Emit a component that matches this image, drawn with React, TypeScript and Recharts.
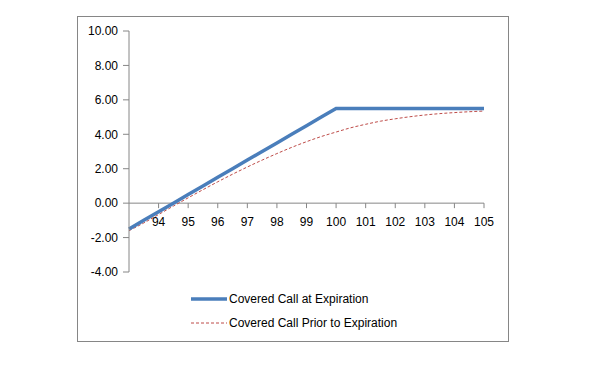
import React from 'react';
import { LineChart, Line, XAxis, YAxis, ReferenceLine } from 'recharts';

const prices = [
  93, 93.5, 94, 94.5, 95, 95.5, 96, 96.5, 97, 97.5, 98, 98.5, 99, 99.5, 100,
  100.5, 101, 101.5, 102, 102.5, 103, 103.5, 104, 104.5, 105,
];
const atExpiration = [
  -1.5, -1.0, -0.5, 0.0, 0.5, 1.0, 1.5, 2.0, 2.5, 3.0, 3.5, 4.0, 4.5, 5.0, 5.5,
  5.5, 5.5, 5.5, 5.5, 5.5, 5.5, 5.5, 5.5, 5.5, 5.5,
];
const priorToExpiration = [
  -1.6, -1.15, -0.66, -0.17, 0.31, 0.78, 1.24, 1.68, 2.1, 2.5, 2.88, 3.24, 3.57, 3.87, 4.13,
  4.38, 4.58, 4.76, 4.9, 5.02, 5.12, 5.2, 5.26, 5.31, 5.35,
];
const xTicks = [94, 95, 96, 97, 98, 99, 100, 101, 102, 103, 104, 105];
const yTicks = [-4, -2, 0, 2, 4, 6, 8, 10];

const data = prices.map((p, i) => ({
  price: p,
  expiration: atExpiration[i],
  prior: priorToExpiration[i],
}));

const FONT = '"Liberation Sans", Arial, sans-serif';
const AXIS = '#868686';
const BLUE = '#4A7EBB';
const RED = '#BE4B48';

// plot box
const TOP = 31;
const PLOT_H = 241;
// distance from bottom of plot up to the zero line (domain -4..10)
const ZERO_UP = (PLOT_H * 4) / 14;

const XTick = (props: any) => {
  const { x, y, payload } = props;
  const zy = y - ZERO_UP;
  return (
    <g>
      <line x1={x} y1={zy} x2={x} y2={zy + 5} stroke={AXIS} />
      <text x={x} y={zy + 14} dy="0.71em" textAnchor="middle" fontSize={12} fontFamily={FONT} fill="#000">
        {payload.value}
      </text>
    </g>
  );
};

export default function App() {
  return (
    <div style={{ position: 'absolute', left: 0, top: 0, width: 600, height: 370, background: '#fff' }}>
      <div
        style={{
          position: 'absolute',
          left: 77,
          top: 16,
          width: 432,
          height: 326,
          border: `1px solid ${AXIS}`,
          boxSizing: 'border-box',
        }}
      />
      <div style={{ position: 'absolute', left: 0, top: 0 }}>
        <LineChart
          width={600}
          height={370}
          data={data}
          margin={{ top: TOP, right: 116, left: 69, bottom: 68 }}
        >
          <XAxis
            dataKey="price"
            type="number"
            domain={[93, 105]}
            ticks={xTicks}
            axisLine={false}
            tickLine={false}
            tickSize={0}
            tickMargin={0}
            height={30}
            tick={XTick}
            interval={0}
          />
          <YAxis
            type="number"
            domain={[-4, 10]}
            ticks={yTicks}
            width={60}
            axisLine={{ stroke: AXIS }}
            tickLine={{ stroke: AXIS }}
            tickSize={6}
            tickMargin={5}
            interval={0}
            tickFormatter={(v: number) => v.toFixed(2)}
            tick={{ fontSize: 12, fontFamily: FONT, fill: '#000' }}
          />
          <ReferenceLine y={0} stroke={AXIS} />
          <Line
            dataKey="prior"
            type="monotone"
            stroke={RED}
            strokeWidth={1}
            strokeDasharray="3 2"
            dot={false}
            isAnimationActive={false}
          />
          <Line
            dataKey="expiration"
            type="linear"
            stroke={BLUE}
            strokeWidth={3.5}
            dot={false}
            isAnimationActive={false}
          />
        </LineChart>
      </div>
      <div style={{ position: 'absolute', left: 191, top: 290, fontFamily: FONT, fontSize: 12, color: '#000' }}>
        <div style={{ display: 'flex', alignItems: 'center', height: 18 }}>
          <svg width={38} height={8}>
            <line x1={0} y1={4} x2={36} y2={4} stroke={BLUE} strokeWidth={3.5} />
          </svg>
          <span>Covered Call at Expiration</span>
        </div>
        <div style={{ display: 'flex', alignItems: 'center', height: 18, marginTop: 6 }}>
          <svg width={38} height={8}>
            <line x1={0} y1={4} x2={36} y2={4} stroke={RED} strokeWidth={1} strokeDasharray="3 2" />
          </svg>
          <span>Covered Call Prior to Expiration</span>
        </div>
      </div>
    </div>
  );
}
